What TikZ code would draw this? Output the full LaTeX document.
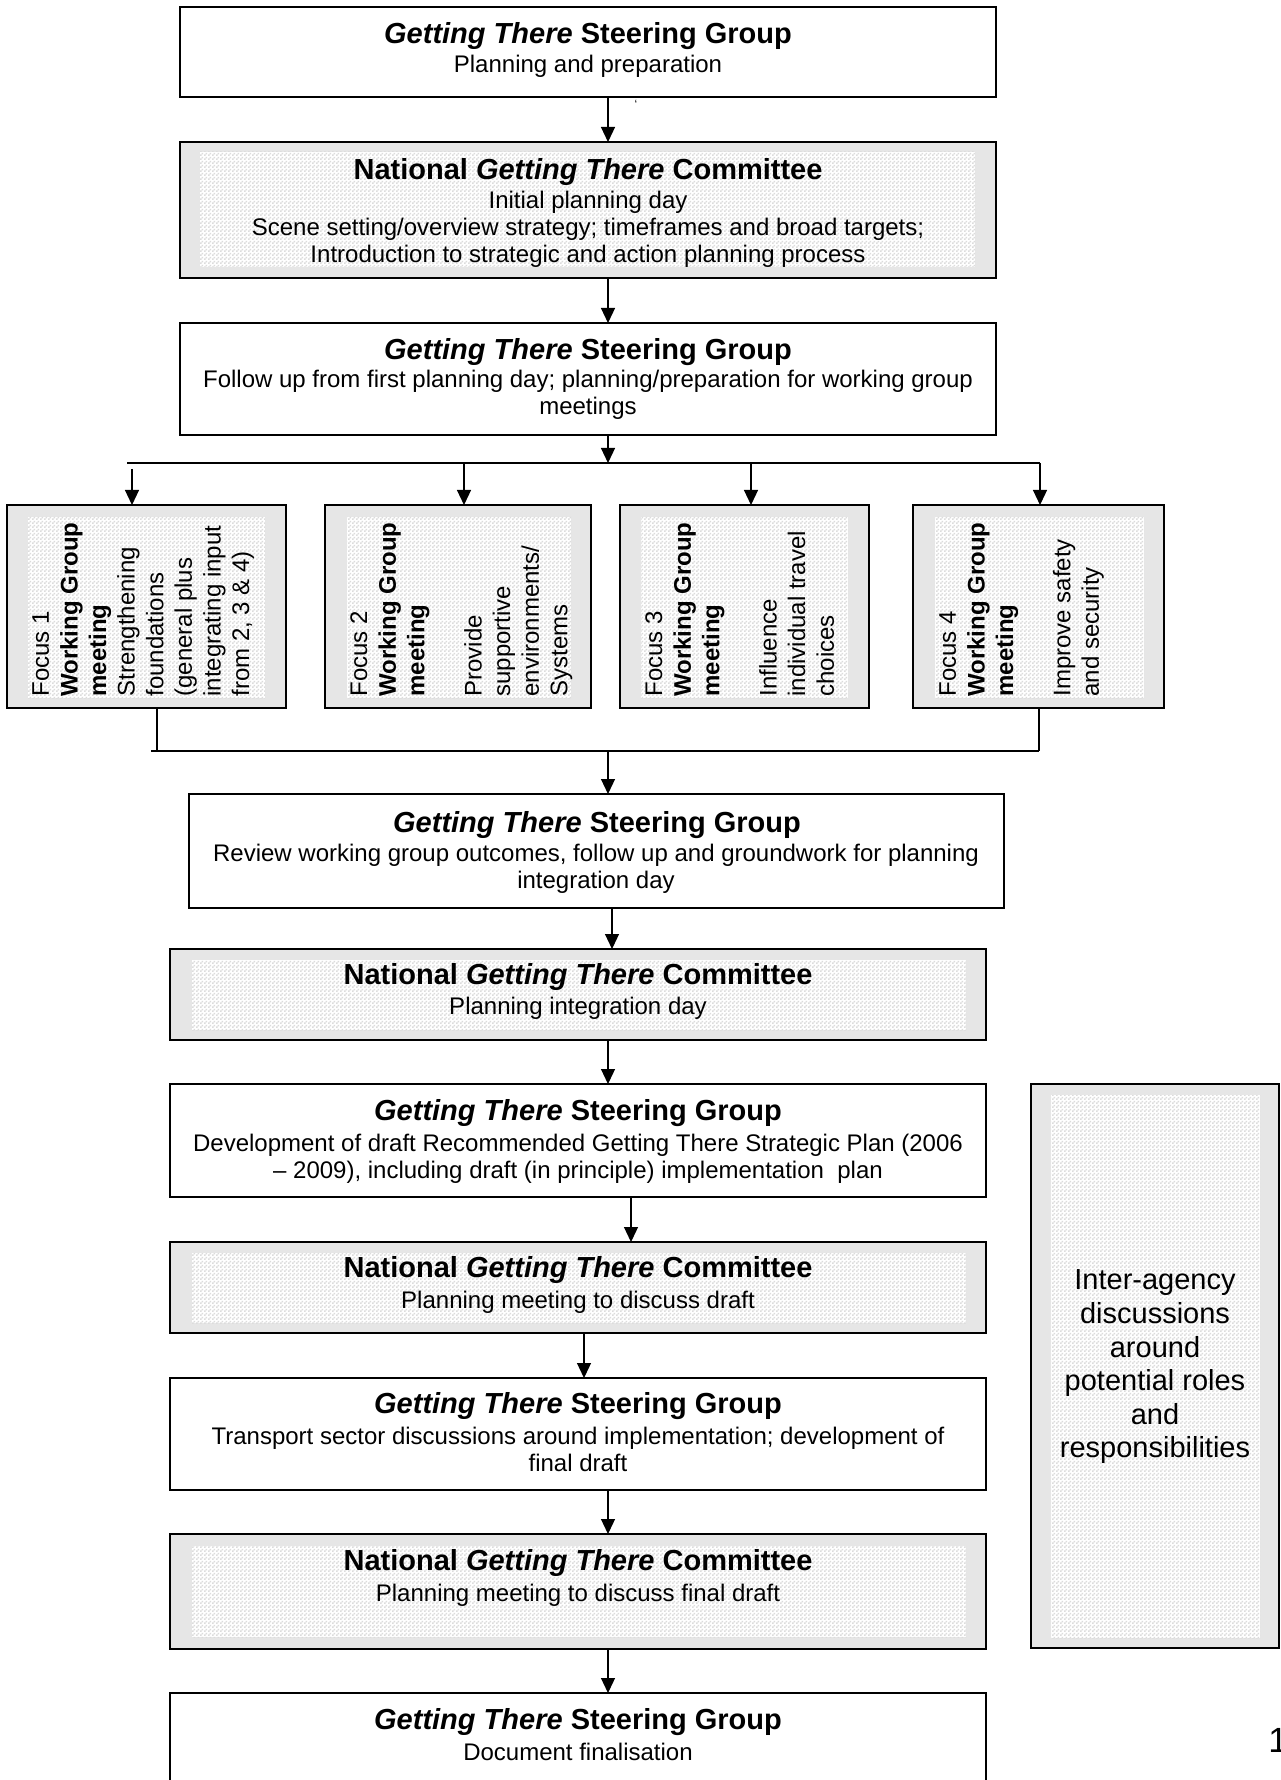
\documentclass[tikz,border=0pt]{standalone}
\usepackage{fontspec}
\setmainfont{Liberation Sans}
\usetikzlibrary{arrows.meta,fit,patterns}
\definecolor{boxgray}{HTML}{E6E6E6}
\definecolor{chk}{HTML}{DCDCDC}
\pgfdeclarepatternformonly{finecheck}{\pgfpointorigin}{\pgfpoint{2pt}{2pt}}{\pgfpoint{2pt}{2pt}}{%
  \pgfpathrectangle{\pgfpointorigin}{\pgfpoint{1pt}{1pt}}%
  \pgfpathrectangle{\pgfpoint{1pt}{1pt}}{\pgfpoint{1pt}{1pt}}%
  \pgfusepath{fill}}
\newcommand\GTh{\textit{Getting There}}
\begin{document}
\begin{tikzpicture}[x=0.5pt,y=-0.5pt,
  plainbox/.style={draw=black, line width=1pt, fill=white, inner sep=0pt, outer sep=0pt},
  shadebox/.style={draw=black, line width=1pt, fill=boxgray, inner sep=0pt, outer sep=0pt},
  inpat/.style={inner sep=0pt, outer sep=0pt, fill=white, postaction={pattern=finecheck, pattern color=chk}},
  ttl/.style={font=\fontsize{14.5}{17}\selectfont\bfseries, inner sep=0pt, align=center},
  bdy/.style={font=\fontsize{12}{13.5}\selectfont, inner sep=0pt, align=center},
  foc/.style={font=\fontsize{12}{14.3}\selectfont, inner sep=0pt, align=left, rotate=90, anchor=north west},
  ln/.style={line width=0.6pt},
  arr/.style={line width=0.6pt, -{Triangle[length=7.5pt,width=7pt]}}]
\useasboundingbox (0,0) rectangle (1280,1780);
\fill[white] (0,0) rectangle (1280,1780);

% column markers for vertical connectors
\coordinate (xa) at (608,0);
\coordinate (xb) at (612,0);
\coordinate (xc) at (631,0);
\coordinate (xd) at (584,0);

% ---- Steering group 1
\node[plainbox, fit={(180,7) (996,97)}] (S1) {};
\node[ttl] (S1t) at (588,36) {\GTh{} Steering Group};
\node[bdy] (S1b) at (588,66) {Planning and preparation};
\node[font=\fontsize{6}{7}\selectfont, inner sep=0pt] (tick) at (636,104) {`};

% ---- National committee 1
\node[shadebox, fit={(180,142) (996,278)}] (N1) {};
\node[inpat, fit={(200,152) (975,267)}] (N1i) {};
\node[ttl] (N1t) at (588,172) {National \GTh{} Committee};
\node[bdy] (N1b) at (588,229.5) {Initial planning day\\Scene setting/overview strategy; timeframes and broad targets;\\Introduction to strategic and action planning process};
\draw[arr] (S1.south -| xa) -- (N1.north -| xa);

% ---- Steering group 2
\node[plainbox, fit={(180,323) (996,435)}] (S2) {};
\node[ttl] (S2t) at (588,352) {\GTh{} Steering Group};
\node[bdy] (S2b) at (588,395) {Follow up from first planning day; planning/preparation for working group\\meetings};
\draw[arr] (N1.south -| xa) -- (S2.north -| xa);

% ---- branching to focus groups
\coordinate (hl) at (127,463);
\coordinate (hr) at (1040,463);
\draw[arr] (S2.south -| xa) -- (hl -| xa);
\draw[ln] (hl) -- (hr);

% ---- Focus boxes
\node[shadebox, fit={(7,505) (286,708)}] (F1) {};
\node[inpat, fit={(28,517) (265,698)}] (F1i) {};
\node[foc] (F1x) at (32,697) {Focus 1\\\textbf{Working Group}\\\textbf{meeting}\\Strengthening\\foundations\\(general plus\\integrating input\\from 2, 3 \& 4)};

\node[shadebox, fit={(325,505) (591,708)}] (F2) {};
\node[inpat, fit={(347,517) (571,698)}] (F2i) {};
\node[foc] (F2x) at (350,697) {Focus 2\\\textbf{Working Group}\\\textbf{meeting}\\[14.3pt]Provide\\supportive\\environments/\\Systems};

\node[shadebox, fit={(620,505) (869,708)}] (F3) {};
\node[inpat, fit={(641,517) (848,698)}] (F3i) {};
\node[foc] (F3x) at (645,697) {Focus 3\\\textbf{Working Group}\\\textbf{meeting}\\[14.3pt]Influence\\individual travel\\choices};

\node[shadebox, fit={(913,505) (1164,708)}] (F4) {};
\node[inpat, fit={(935,517) (1144,698)}] (F4i) {};
\node[foc] (F4x) at (939,697) {Focus 4\\\textbf{Working Group}\\\textbf{meeting}\\[14.3pt]Improve safety\\and security};

\coordinate (f1s) at (132,469);
\coordinate (f2s) at (464,463);
\coordinate (f3s) at (751,463);
\draw[arr] (f1s) -- (f1s |- F1.north);
\draw[arr] (f2s) -- (f2s |- F2.north);
\draw[arr] (f3s) -- (f3s |- F3.north);
\draw[arr] (hr) -- (hr |- F4.north);

% ---- merge below focus boxes
\coordinate (bl) at (151,751);
\coordinate (br) at (1039,751);
\coordinate (b1) at (157,751);
\draw[ln] (b1 |- F1.south) -- (b1);
\draw[ln] (br |- F4.south) -- (br);
\draw[ln] (bl) -- (br);

% ---- Review steering group
\node[plainbox, fit={(189,794) (1004,908)}] (R) {};
\node[ttl] (Rt) at (597,825) {\GTh{} Steering Group};
\node[bdy] (Rb) at (596,868.5) {Review working group outcomes, follow up and groundwork for planning\\integration day};
\draw[arr] (bl -| xa) -- (R.north -| xa);

% ---- National committee 2
\node[shadebox, fit={(170,949) (986,1040)}] (N2) {};
\node[inpat, fit={(192,960) (966,1030)}] (N2i) {};
\node[ttl] (N2t) at (578,977) {National \GTh{} Committee};
\node[bdy] (N2b) at (578,1008) {Planning integration day};
\draw[arr] (R.south -| xb) -- (N2.north -| xb);

% ---- Steering group 3
\node[plainbox, fit={(170,1084) (986,1197)}] (S3) {};
\node[ttl] (S3t) at (578,1113) {\GTh{} Steering Group};
\node[bdy] (S3b) at (578,1159) {Development of draft Recommended Getting There Strategic Plan (2006\\– 2009), including draft (in principle) implementation\ \ plan};
\draw[arr] (N2.south -| xa) -- (S3.north -| xa);

% ---- National committee 3
\node[shadebox, fit={(170,1242) (986,1333)}] (N3) {};
\node[inpat, fit={(192,1253) (966,1323)}] (N3i) {};
\node[ttl] (N3t) at (578,1270) {National \GTh{} Committee};
\node[bdy] (N3b) at (578,1302) {Planning meeting to discuss draft};
\draw[arr] (S3.south -| xc) -- (N3.north -| xc);

% ---- Steering group 4
\node[plainbox, fit={(170,1378) (986,1490)}] (S4) {};
\node[ttl] (S4t) at (578,1406) {\GTh{} Steering Group};
\node[bdy] (S4b) at (578,1449.5) {Transport sector discussions around implementation; development of\\final draft};
\draw[arr] (N3.south -| xd) -- (S4.north -| xd);

% ---- National committee 4
\node[shadebox, fit={(170,1534) (986,1649)}] (N4) {};
\node[inpat, fit={(192,1546) (966,1637)}] (N4i) {};
\node[ttl] (N4t) at (578,1563) {National \GTh{} Committee};
\node[bdy] (N4b) at (578,1595) {Planning meeting to discuss final draft};
\draw[arr] (S4.south -| xa) -- (N4.north -| xa);

% ---- Steering group 5
\node[plainbox, fit={(170,1693) (986,1790)}] (S5) {};
\node[ttl] (S5t) at (578,1722) {\GTh{} Steering Group};
\node[bdy] (S5b) at (578,1752) {Document finalisation};
\draw[arr] (N4.south -| xa) -- (S5.north -| xa);

% ---- Inter-agency box
\node[shadebox, fit={(1031,1084) (1279,1648)}] (IA) {};
\node[inpat, fit={(1051,1095) (1260,1638)}] (IAi) {};
\node[font=\fontsize{14.5}{16.8}\selectfont, align=center, inner sep=0pt] (IAt) at (1155,1367) {Inter-agency\\discussions\\around\\potential roles\\and\\responsibilities};

% ---- page number (cut off)
\node[font=\fontsize{17.5}{20}\selectfont, inner sep=0pt, anchor=base west] (pg) at (1268,1752) {1};
\end{tikzpicture}
\end{document}
